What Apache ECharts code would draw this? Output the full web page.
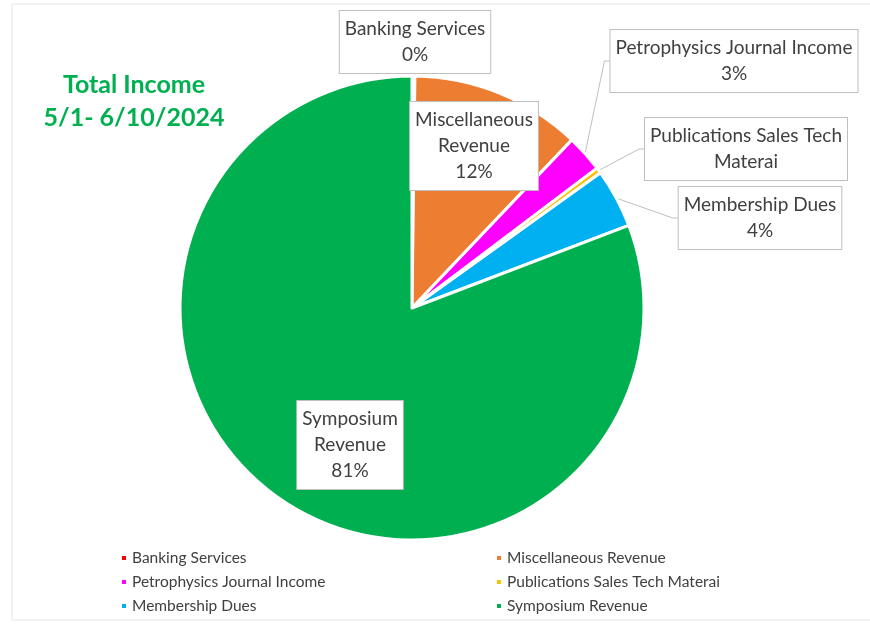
<!DOCTYPE html>
<html>
<head>
<meta charset="utf-8">
<script src="https://cdn.jsdelivr.net/npm/echarts@6/dist/echarts.min.js"></script>
<style>
html,body{margin:0;padding:0;background:#fff;}
#chart{width:870px;height:629px;}
</style>
</head>
<body>
<div id="chart"></div>
<script>
// ---- data ----
const categories = ['Banking Services','Miscellaneous Revenue','Petrophysics Journal Income','Publications Sales Tech Materai','Membership Dues','Symposium Revenue'];
const values = [0.2, 11.9, 2.6, 0.4, 4.1, 80.8];
const labelTexts = ['Banking Services\n{d}%','Miscellaneous\nRevenue\n{d}%','Petrophysics Journal Income\n{d}%','Publications Sales Tech\nMaterai','Membership Dues\n{d}%','Symposium\nRevenue\n{d}%'];
const colors = ['#ff0000','#ed7d31','#ff00ff','#ffc000','#00b0f0','#00b050'];
const titleText = 'Total Income\n5/1- 6/10/2024';

// ---- layout (label box centres) ----
const labelPos = [[415,42],[474,146],[734,61],[746,149],[760,218],[350,445]];

const chart = echarts.init(document.getElementById('chart'));
const font = 'Lato, "Open Sans", sans-serif';
chart.setOption({
  animation:false,
  color: colors,
  graphic:[{type:'rect',shape:{x:12,y:4,width:870,height:616},style:{fill:'none',stroke:'#e6e6e6',lineWidth:1}}],
  title:{
    text:titleText, left:129, top:63, textAlign:'center',
    textStyle:{color:'#00b050',fontSize:25,fontWeight:'bold',fontFamily:font,lineHeight:33}
  },
  legend:[
    {data:[categories[0],categories[2],categories[4]], orient:'vertical', left:115, top:545,
     itemWidth:6,itemHeight:6,itemGap:8,icon:'rect',
     textStyle:{fontSize:15.5,color:'#404040',fontFamily:font}},
    {data:[categories[1],categories[3],categories[5]], orient:'vertical', left:490, top:545,
     itemWidth:6,itemHeight:6,itemGap:8,icon:'rect',
     textStyle:{fontSize:15.5,color:'#404040',fontFamily:font}}
  ],
  series:[{
    type:'pie',
    center:[412,308],
    radius:[0,232],
    startAngle:90,
    clockwise:true,
    avoidLabelOverlap:false,
    itemStyle:{borderColor:'#fff',borderWidth:3},
    data: categories.map((c,i)=>({name:c, value:values[i]})),
    label:{
      show:true, position:'outside',
      formatter:function(p){
        return labelTexts[p.dataIndex].replace('{d}', Math.round(p.percent));
      },
      color:'#404040', fontSize:19, fontFamily:font, lineHeight:26,
      backgroundColor:'#fff', borderColor:'#bfbfbf', borderWidth:1,
      padding:[5,5,5,5], align:'center'
    },
    labelLine:{show:true,length:5,length2:5,lineStyle:{color:'#bfbfbf',width:1}},
    labelLayout:function(p){
      const pos = labelPos[p.dataIndex];
      return {x:pos[0], y:pos[1], align:'center', verticalAlign:'middle'};
    }
  }]
});
</script>
</body>
</html>
